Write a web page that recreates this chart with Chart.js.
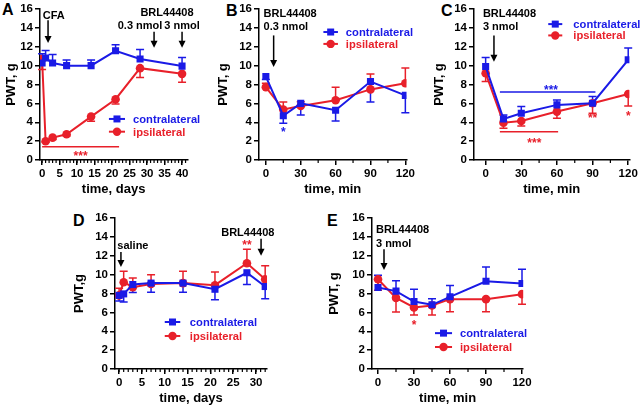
<!DOCTYPE html>
<html>
<head>
<meta charset="utf-8">
<script src="https://cdn.jsdelivr.net/npm/chart.js@4.4.0/dist/chart.umd.min.js"></script>
<style>
  body { margin: 0; background: #fff; width: 640px; height: 407px; position: relative; overflow: hidden; }
  canvas { position: absolute; }
  .letter { position: absolute; font: bold 16px "Liberation Sans", Arial, sans-serif; line-height: 16px; color: #000; }
</style>
</head>
<body>
<div class="letter" style="left:2px;top:2px">A</div>
<div class="letter" style="left:226px;top:3px">B</div>
<div class="letter" style="left:441px;top:3px">C</div>
<div class="letter" style="left:73px;top:213px">D</div>
<div class="letter" style="left:327px;top:213px">E</div>

<canvas id="A" width="205" height="200" style="left:0;top:0"></canvas>
<canvas id="B" width="205" height="200" style="left:212px;top:0"></canvas>
<canvas id="C" width="212" height="200" style="left:428px;top:0"></canvas>
<canvas id="D" width="232" height="200" style="left:68px;top:209px"></canvas>
<canvas id="E" width="277" height="200" style="left:323px;top:209px"></canvas>

<script>
// PWT values (g), error = SEM drawn one side only
const yTicks = [0, 2, 4, 6, 8, 10, 12, 14, 16];

// A: CFA time course
const daysA = [0, 1, 3, 7, 14, 21, 28, 40];
const contraA = [10.27, 10.8, 10.27, 10.0, 10.0, 11.57, 10.7, 9.95];
const contraErrA = [1.0, 0.8, 0.9, 0.6, 0.6, 0.65, 1.0, 0.9];
const ipsiA = [10.7, 1.98, 2.37, 2.73, 4.6, 6.44, 9.73, 9.13];
const ipsiErrA = [1.1, 0.1, 0.2, 0.2, 0.5, 0.5, 1.0, 0.9];
const xTicksA = [0, 5, 10, 15, 20, 25, 30, 35, 40];

// B: BRL44408 0.3 nmol
const minB = [0, 15, 30, 60, 90, 120];
const contraB = [8.84, 4.69, 6.0, 5.28, 8.31, 6.85];
const contraErrB = [0.3, 0.8, 1.24, 1.15, 2.16, 1.85];
const ipsiB = [7.72, 5.35, 5.73, 6.33, 7.48, 8.14];
const ipsiErrB = [0.42, 0.8, 0.45, 1.39, 1.62, 1.6];

// C: BRL44408 3 nmol
const minC = [0, 15, 30, 60, 90, 120];
const contraC = [9.9, 4.35, 4.96, 5.84, 6.02, 10.62];
const contraErrC = [0.97, 0.43, 0.7, 0.53, 0.71, 1.24];
const ipsiC = [9.2, 3.96, 4.14, 5.13, 6.02, 7.0];
const ipsiErrC = [0.88, 0.6, 0.53, 0.71, 1.06, 1.27];

// D: saline time course
const daysD = [0, 1, 3, 7, 14, 21, 28, 32];
const contraD = [7.8, 7.96, 8.95, 9.1, 9.1, 8.45, 10.2, 8.74];
const contraErrD = [0.6, 0.86, 0.85, 0.96, 0.96, 1.12, 1.25, 1.3];
const ipsiD = [7.8, 9.2, 8.67, 9.0, 9.1, 8.88, 11.2, 9.5];
const ipsiErrD = [0.76, 1.15, 0.98, 1.0, 1.25, 1.4, 1.5, 1.45];
const xTicksD = [0, 5, 10, 15, 20, 25, 30];

// E: BRL44408 3 nmol after saline
const minE = [0, 15, 30, 45, 60, 90, 120];
const contraE = [8.63, 8.25, 7.15, 6.8, 7.65, 9.3, 9.06];
const contraErrE = [1.31, 1.09, 1.31, 0.64, 1.2, 1.52, 1.51];
const ipsiE = [9.51, 7.54, 6.52, 6.73, 7.4, 7.4, 7.93];
const ipsiErrE = [1.16, 1.51, 0.81, 1.02, 1.34, 1.34, 1.06];

const xTicksMin = [0, 30, 60, 90, 120];
const minorMin = [15, 45, 75, 105];

const BLUE = '#1a1ae6';
const RED = '#e8202a';
const FONT = '"Liberation Sans", Arial, sans-serif';

// annotations, all in data units of each panel
const extras = {
  A: {
    minor: Array.from({ length: 42 }, (_, i) => i),
    texts: [
      { x: 0.2, y: 15.4, t: 'CFA', align: 'left' },
      { x: 35.7, y: 15.7, t: 'BRL44408' },
      { x: 28, y: 14.3, t: '0.3 nmol' },
      { x: 40, y: 14.3, t: '3 nmol' },
      { x: 11, y: 0.75, t: '***', color: RED, star: true }
    ],
    arrows: [[1.7, 14.8, 12.4], [32, 13.6, 11.9], [40, 13.6, 11.9]],
    bars: [{ x0: 0, x1: 22, y: 1.4, color: RED }],
    legend: { x0: 19.1, x1: 23.7, xt: 26, y: [4.35, 3.0] }
  },
  B: {
    minor: minorMin,
    texts: [
      { x: -2, y: 15.6, t: 'BRL44408', align: 'left' },
      { x: -2, y: 14.2, t: '0.3 nmol', align: 'left' },
      { x: 15, y: 3.26, t: '*', color: BLUE, star: true }
    ],
    arrows: [[6.7, 13.2, 9.85]],
    bars: [],
    legend: { x0: 49.5, x1: 62, xt: 68.8, y: [13.56, 12.3] }
  },
  C: {
    minor: minorMin,
    texts: [
      { x: -2.3, y: 15.6, t: 'BRL44408', align: 'left' },
      { x: -2.3, y: 14.2, t: '3 nmol', align: 'left' },
      { x: 55, y: 7.7, t: '***', color: BLUE, star: true },
      { x: 41, y: 2.1, t: '***', color: RED, star: true },
      { x: 90, y: 4.7, t: '**', color: RED, star: true },
      { x: 120, y: 5.0, t: '*', color: RED, star: true }
    ],
    arrows: [[7, 13.2, 10.4]],
    bars: [{ x0: 12, x1: 92.4, y: 7.2, color: BLUE }, { x0: 12, x1: 61, y: 3.0, color: RED }],
    legend: { x0: 52.7, x1: 64.5, xt: 73.8, y: [14.4, 13.2] }
  },
  D: {
    minor: Array.from({ length: 33 }, (_, i) => i),
    texts: [
      { x: -0.4, y: 13.1, t: 'saline', align: 'left' },
      { x: 28.2, y: 14.5, t: 'BRL44408' },
      { x: 28, y: 13.4, t: '**', color: RED, star: true }
    ],
    arrows: [[0.4, 12.4, 10.8], [31.1, 13.8, 12.0]],
    bars: [],
    legend: { x0: 10, x1: 13.4, xt: 15.5, y: [4.98, 3.5] }
  },
  E: {
    minor: minorMin,
    texts: [
      { x: -1.7, y: 14.8, t: 'BRL44408', align: 'left' },
      { x: -1.7, y: 13.35, t: '3 nmol', align: 'left' },
      { x: 30, y: 5.0, t: '*', color: RED, star: true }
    ],
    arrows: [[5, 12.7, 10.5]],
    bars: [],
    legend: { x0: 47.5, x1: 61.7, xt: 68.3, y: [3.8, 2.33] }
  }
};

const figPlugin = {
  id: 'fig',
  beforeDatasetsDraw(chart) {
    const { ctx, scales: { x, y } } = chart;
    chart.data.datasets.forEach(ds => {
      ctx.save();
      ctx.strokeStyle = ds.borderColor;
      ctx.lineWidth = 1.5;
      ds.data.forEach((p, i) => {
        const px = x.getPixelForValue(p.x);
        const py0 = y.getPixelForValue(p.y);
        const py1 = y.getPixelForValue(p.y + ds.errDir * ds.err[i]);
        ctx.beginPath();
        ctx.moveTo(px, py0); ctx.lineTo(px, py1);
        ctx.moveTo(px - 4, py1); ctx.lineTo(px + 4, py1);
        ctx.stroke();
      });
      ctx.restore();
    });
  },
  afterDraw(chart) {
    const ex = extras[chart.canvas.id];
    const { ctx, scales: { x, y } } = chart;
    ctx.save();
    // minor ticks on x
    ctx.strokeStyle = '#000';
    ctx.lineWidth = 1.2;
    ex.minor.forEach(v => {
      const px = x.getPixelForValue(v);
      ctx.beginPath(); ctx.moveTo(px, y.bottom); ctx.lineTo(px, y.bottom + 3); ctx.stroke();
    });
    // significance bars
    ex.bars.forEach(b => {
      ctx.strokeStyle = b.color; ctx.lineWidth = 1.5;
      const py = y.getPixelForValue(b.y);
      ctx.beginPath(); ctx.moveTo(x.getPixelForValue(b.x0), py); ctx.lineTo(x.getPixelForValue(b.x1), py); ctx.stroke();
    });
    // arrows
    ex.arrows.forEach(([ax, y0, y1]) => {
      const px = x.getPixelForValue(ax), p0 = y.getPixelForValue(y0), p1 = y.getPixelForValue(y1);
      ctx.strokeStyle = '#000'; ctx.fillStyle = '#000'; ctx.lineWidth = 1.5;
      ctx.beginPath(); ctx.moveTo(px, p0); ctx.lineTo(px, p1 - 6); ctx.stroke();
      ctx.beginPath(); ctx.moveTo(px - 3.5, p1 - 7); ctx.lineTo(px + 3.5, p1 - 7); ctx.lineTo(px, p1); ctx.closePath(); ctx.fill();
    });
    // texts
    ex.texts.forEach(tx => {
      const size = tx.star ? 12 : 11;
      ctx.font = 'bold ' + size + 'px ' + FONT;
      ctx.fillStyle = tx.color || '#000';
      ctx.textAlign = tx.align || 'center';
      ctx.textBaseline = 'alphabetic';
      const off = tx.star ? 0.57 * size : 0.36 * size;
      ctx.fillText(tx.t, x.getPixelForValue(tx.x), y.getPixelForValue(tx.y) + off);
    });
    // legend
    const lg = ex.legend;
    chart.data.datasets.forEach((ds, i) => {
      const py = y.getPixelForValue(lg.y[i]);
      const x0 = x.getPixelForValue(lg.x0), x1 = x.getPixelForValue(lg.x1);
      ctx.strokeStyle = ds.borderColor; ctx.fillStyle = ds.borderColor; ctx.lineWidth = 2;
      ctx.beginPath(); ctx.moveTo(x0, py); ctx.lineTo(x1, py); ctx.stroke();
      const mx = (x0 + x1) / 2;
      if (ds.pointStyle === 'rect') { ctx.fillRect(mx - 3.5, py - 3.5, 7, 7); }
      else { ctx.beginPath(); ctx.arc(mx, py, 4.2, 0, Math.PI * 2); ctx.fill(); }
      ctx.font = 'bold 11.2px ' + FONT;
      ctx.textAlign = 'left';
      ctx.textBaseline = 'alphabetic';
      ctx.fillText(ds.label, x.getPixelForValue(lg.xt), py + 0.36 * 11.2);
    });
    ctx.restore();
  }
};

function series(xs, ys) {
  return xs.map((v, i) => ({ x: v, y: ys[i] }));
}

function makePanel(id, cfg) {
  return new Chart(document.getElementById(id), {
    type: 'line',
    data: {
      datasets: [
        {
          label: 'contralateral', data: series(cfg.x, cfg.contra),
          err: cfg.contraErr, errDir: cfg.contraDir,
          borderColor: BLUE, backgroundColor: BLUE, borderWidth: 2,
          pointStyle: 'rect', pointRadius: 5, pointBorderWidth: 0, tension: 0
        },
        {
          label: 'ipsilateral', data: series(cfg.x, cfg.ipsi),
          err: cfg.ipsiErr, errDir: cfg.ipsiDir,
          borderColor: RED, backgroundColor: RED, borderWidth: 2,
          pointStyle: 'circle', pointRadius: 4.3, pointBorderWidth: 0, tension: 0
        }
      ]
    },
    options: {
      responsive: false,
      animation: false,
      events: [],
      layout: { padding: cfg.pad },
      plugins: { legend: { display: false }, tooltip: { enabled: false } },
      scales: {
        x: {
          type: 'linear', min: cfg.xmin, max: cfg.xmax,
          afterBuildTicks: s => { s.ticks = cfg.xTicks.map(v => ({ value: v })); },
          afterFit: s => { s.height = 40; },
          grid: { drawOnChartArea: false, color: '#000', lineWidth: 1.5, tickLength: 5 },
          border: { color: '#000', width: 1.5 },
          ticks: { color: '#000', font: { family: FONT, size: 11.5, weight: 'bold' }, padding: 2, maxRotation: 0, autoSkip: false },
          title: { display: true, text: cfg.xTitle, color: '#000', font: { family: FONT, size: 13, weight: 'bold' }, padding: { top: 0, bottom: 3 } }
        },
        y: {
          min: 0, max: 16,
          afterBuildTicks: s => { s.ticks = yTicks.map(v => ({ value: v })); },
          afterFit: s => { s.width = cfg.yw; },
          grid: { drawOnChartArea: false, color: '#000', lineWidth: 1.5, tickLength: 5 },
          border: { color: '#000', width: 1.5 },
          ticks: { color: '#000', font: { family: FONT, size: 11.5, weight: 'bold' }, padding: 2 },
          title: { display: true, text: cfg.yTitle, color: '#000', font: { family: FONT, size: 13, weight: 'bold' }, padding: { top: 4, bottom: 0 } }
        }
      }
    },
    plugins: [figPlugin]
  });
}

makePanel('A', {
  x: daysA, contra: contraA, contraErr: contraErrA, contraDir: 1,
  ipsi: ipsiA, ipsiErr: ipsiErrA, ipsiDir: -1,
  xmin: -0.6, xmax: 41.5, xTicks: xTicksA, xTitle: 'time, days', yTitle: 'PWT, g',
  yw: 40, pad: { left: 0, right: 17.7, top: 9, bottom: 0 }
});
makePanel('B', {
  x: minB, contra: contraB, contraErr: contraErrB, contraDir: -1,
  ipsi: ipsiB, ipsiErr: ipsiErrB, ipsiDir: 1,
  xmin: -5.9, xmax: 121, xTicks: xTicksMin, xTitle: 'time, min', yTitle: 'PWT, g',
  yw: 47, pad: { left: 0, right: 6.6, top: 9, bottom: 0 }
});
makePanel('C', {
  x: minC, contra: contraC, contraErr: contraErrC, contraDir: 1,
  ipsi: ipsiC, ipsiErr: ipsiErrC, ipsiDir: -1,
  xmin: -9.8, xmax: 121, xTicks: xTicksMin, xTitle: 'time, min', yTitle: 'PWT, g',
  yw: 46, pad: { left: 0, right: 10.6, top: 9, bottom: 0 }
});
makePanel('D', {
  x: daysD, contra: contraD, contraErr: contraErrD, contraDir: -1,
  ipsi: ipsiD, ipsiErr: ipsiErrD, ipsiDir: 1,
  xmin: -0.9, xmax: 32.4, xTicks: xTicksD, xTitle: 'time, days', yTitle: 'PWT,g',
  yw: 47, pad: { left: 0, right: 33, top: 9, bottom: 0 }
});
makePanel('E', {
  x: minE, contra: contraE, contraErr: contraErrE, contraDir: 1,
  ipsi: ipsiE, ipsiErr: ipsiErrE, ipsiDir: -1,
  xmin: -5, xmax: 121, xTicks: xTicksMin, xTitle: 'time, min', yTitle: 'PWT, g',
  yw: 49, pad: { left: 0, right: 76.8, top: 9, bottom: 0 }
});
</script>
</body>
</html>
